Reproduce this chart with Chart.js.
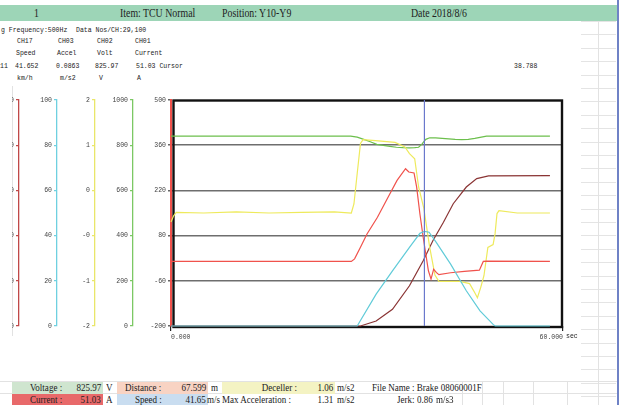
<!DOCTYPE html>
<html>
<head>
<meta charset="utf-8">
<script src="https://cdn.jsdelivr.net/npm/chart.js@4"></script>
<style>
  body { margin: 0; width: 620px; height: 405px; overflow: hidden; background: #fff; position: relative; }
  .hdr { position: absolute; left: 0; top: 5px; width: 617px; height: 16px; background: #9dd5b7; }
  .sv { position: absolute; font-family: 'Liberation Serif', serif; color: #222; white-space: pre; transform: scaleX(0.82); }
  .sv.l { transform-origin: left center; }
  .sv.r { transform-origin: right center; text-align: right; }
  .mono { position: absolute; font-family: 'Liberation Mono', monospace; font-size: 6.5px; color: #222; white-space: pre; }
  .cell { position: absolute; height: 12px; }
  .gridR { position: absolute; left: 581px; top: 21px; width: 35px; height: 384px;
    background: repeating-linear-gradient(to bottom, #e4e4e4 0, #e4e4e4 1px, transparent 1px, transparent 13.4px); }
  .vline { position: absolute; width: 1px; background: #e2e2e2; }
  #wrap { position: absolute; left: 12px; top: 90px; width: 588px; height: 265px; overflow: hidden; }
  #c { position: absolute; left: -31px; top: 0; }
</style>
</head>
<body>
<div class="gridR"></div>
<div class="vline" style="left:598px;top:21px;height:384px"></div>
<div class="vline" style="left:12px;top:86px;height:250px"></div>
<div class="vline" style="left:462px;top:381px;height:24px"></div>
<div class="vline" style="left:482px;top:381px;height:24px"></div>
<div class="vline" style="left:503px;top:381px;height:24px"></div>
<div class="vline" style="left:533px;top:381px;height:24px"></div>
<div class="vline" style="left:567px;top:381px;height:24px"></div>
<div style="position:absolute;left:0;top:381px;width:617px;height:1px;background:#e2e2e2"></div>
<div style="position:absolute;left:0;top:393px;width:617px;height:1px;background:#e2e2e2"></div>
<div style="position:absolute;left:617px;top:0;width:1.5px;height:405px;background:#6f82c6"></div>

<div class="hdr"></div>
<div class="sv l" style="left:34px;top:6px;font-size:12px">1</div>
<div class="sv l" style="left:120px;top:6px;font-size:12px">Item: TCU Normal</div>
<div class="sv l" style="left:222px;top:6px;font-size:12px">Position: Y10-Y9</div>
<div class="sv l" style="left:411px;top:6px;font-size:12px">Date 2018/8/6</div>

<div class="mono" style="left:1px;top:27px">g Frequency:500Hz</div>
<div class="mono" style="left:76px;top:27px">Data Nos/CH:29,100</div>
<div class="mono" style="left:17px;top:38px">CH17</div>
<div class="mono" style="left:58px;top:38px">CH03</div>
<div class="mono" style="left:97px;top:38px">CH02</div>
<div class="mono" style="left:135px;top:38px">CH01</div>
<div class="mono" style="left:16px;top:50px">Speed</div>
<div class="mono" style="left:57px;top:50px">Accel</div>
<div class="mono" style="left:97px;top:50px">Volt</div>
<div class="mono" style="left:135px;top:50px">Current</div>
<div class="mono" style="left:0px;top:63px">11</div>
<div class="mono" style="left:15px;top:63px">41.652</div>
<div class="mono" style="left:56px;top:63px">0.0863</div>
<div class="mono" style="left:95px;top:63px">825.97</div>
<div class="mono" style="left:136px;top:63px">51.03 Cursor</div>
<div class="mono" style="left:514px;top:63px">38.788</div>
<div class="mono" style="left:17px;top:75px">km/h</div>
<div class="mono" style="left:60px;top:75px">m/s2</div>
<div class="mono" style="left:99px;top:75px">V</div>
<div class="mono" style="left:137px;top:75px">A</div>

<div id="wrap"><canvas id="c" width="600" height="265"></canvas></div>
<div class="mono" style="left:566px;top:333px">sec</div>

<div class="cell" style="left:12px;top:382px;width:91px;background:#cfe5cf"></div>
<div class="cell" style="left:117px;top:382px;width:91px;background:#f8d3c3"></div>
<div class="cell" style="left:222px;top:382px;width:113px;background:#f4f3c3"></div>
<div class="cell" style="left:12px;top:394px;width:91px;background:#e8696a"></div>
<div class="cell" style="left:117px;top:394px;width:91px;background:#c9ddf0"></div>

<div class="sv l" style="left:30px;top:381px;font-size:11px">Voltage :</div>
<div class="sv r" style="right:519px;top:381px;font-size:11px">825.97</div>
<div class="sv l" style="left:106px;top:381px;font-size:11px">V</div>
<div class="sv l" style="left:125px;top:381px;font-size:11px">Distance :</div>
<div class="sv r" style="right:414px;top:381px;font-size:11px">67.599</div>
<div class="sv l" style="left:211px;top:381px;font-size:11px">m</div>
<div class="sv r" style="right:323px;top:381px;font-size:11px">Deceller :</div>
<div class="sv r" style="right:287px;top:381px;font-size:11px">1.06</div>
<div class="sv l" style="left:337px;top:381px;font-size:11px">m/s2</div>
<div class="sv l" style="left:372px;top:381px;font-size:11px">File Name : Brake 08060001F</div>

<div class="sv l" style="left:30px;top:393px;font-size:11px">Current :</div>
<div class="sv r" style="right:519px;top:393px;font-size:11px">51.03</div>
<div class="sv l" style="left:106px;top:393px;font-size:11px">A</div>
<div class="sv l" style="left:135px;top:393px;font-size:11px">Speed :</div>
<div class="sv r" style="right:414px;top:393px;font-size:11px">41.65</div>
<div class="sv l" style="left:207px;top:393px;font-size:11px">m/s</div>
<div class="sv l" style="left:222px;top:393px;font-size:11px">Max Acceleration :</div>
<div class="sv r" style="right:287px;top:393px;font-size:11px">1.31</div>
<div class="sv l" style="left:337px;top:393px;font-size:11px">m/s2</div>
<div class="sv l" style="left:397px;top:393px;font-size:11px">Jerk:</div>
<div class="sv l" style="left:417px;top:393px;font-size:11px">0.86</div>
<div class="sv l" style="left:436px;top:393px;font-size:11px">m/s3</div>

<script>
  // Channels (time in sec)
  const voltTime  = [0, 27.5, 28.5, 29.5, 30.5, 31.5, 32.5, 33.5, 34.5, 35.5, 36.5, 37.3, 37.9, 38.4, 39.0, 39.6, 40.5, 41.5, 42.5, 43.5, 44.5, 45.5, 46.5, 47.5, 48.3, 58];
  const voltage   = [840, 840, 836, 826, 815, 804, 799, 795, 791, 789, 788, 789, 791, 805, 826, 833, 832, 830, 828, 826, 825, 826, 830, 836, 840, 840];

  const accelTime = [0, 0.4, 0.8, 5, 10, 15, 20, 25, 27.6, 28.0, 28.5, 29.0, 29.4, 31.3, 34.3, 35.8, 36.5, 37.3, 37.9, 38.7, 39.6, 40.4, 41.0, 44.2, 45.7, 46.5, 46.9, 47.4, 47.9, 48.5, 49.3, 49.6, 49.9, 50.2, 53, 58];
  const accel     = [-0.16, -0.05, 0.01, 0.0, 0.02, 0.0, 0.01, 0.02, 0.0, 0.16, 0.70, 1.23, 1.30, 1.28, 1.25, 1.17, 1.05, 0.96, 0.46, 0.08, -0.61, -1.10, -1.21, -1.21, -1.25, -1.41, -1.50, -1.32, -1.11, -0.61, -0.56, -0.37, -0.01, 0.04, 0.0, 0.0];

  const currTime  = [0, 27.6, 28.1, 29.0, 30.0, 31.6, 33.1, 34.6, 35.9, 36.4, 37.2, 37.6, 38.1, 38.6, 39.0, 39.4, 39.8, 40.2, 40.6, 41.0, 42.8, 44.9, 47.2, 47.8, 48.3, 58];
  const current   = [0, 0, 8, 44, 85, 137, 194, 251, 287, 277, 274, 230, 147, 75, 23, -29, -55, -24, -34, -41, -35, -31, -27, 0, 1, 0];

  const speedTime = [0, 28.5, 31.4, 33.9, 36.5, 38.1, 38.8, 39.5, 40.6, 42.8, 45.2, 47.3, 49.3, 49.6, 58];
  const speed     = [0, 0, 14.1, 24.4, 34.8, 41.0, 41.9, 41.5, 37.0, 27.4, 15.6, 6.7, 0.7, 0, 0];

  const distTime  = [0, 29.0, 31.4, 33.9, 36.5, 38.6, 40.1, 41.7, 43.2, 45.2, 46.8, 48.6, 58];
  const distance  = [0, 0, 2.2, 7.4, 17.8, 28.9, 37.8, 45.9, 54.1, 61.5, 65.2, 66.4, 66.5];

  const cursorTime = 38.788;

  // Tick labels
  const mainTicks  = [-200, -60, 80, 220, 360, 500];
  const distTicks  = [0, 20, 40, 60, 80, 100];
  const speedTicks = [0, 20, 40, 60, 80, 100];
  const accelTicks = [-2, -1.2, -0.4, 0.4, 1.2, 2];
  const voltTicks  = [0, 200, 400, 600, 800, 1000];
  const timeTicks  = [0, 60];

  // Colors
  const c_volt   = '#6cbf4c';
  const c_accel  = '#eeea5c';
  const c_curr   = '#f0524c';
  const c_speed  = '#60cbd8';
  const c_dist   = '#8a3434';
  const c_cursor = '#6a78cc';

  function pts(ts, vs) {
    return ts.map((t, i) => ({ x: t, y: vs[i] }));
  }

  const tickFont = { family: 'Liberation Mono', size: 6.5 };

  function sideAxis(min, max, ticks, color, weight, fmt) {
    return {
      position: 'left', min: min, max: max, weight: weight,
      afterFit: s => { s.width = 38; },
      afterBuildTicks: s => { s.ticks = ticks.map(v => ({ value: v })); },
      border: { color: color, width: 1.3 },
      grid: { drawOnChartArea: false, color: color, tickLength: 3, lineWidth: 1.3 },
      ticks: { color: '#444', font: tickFont, padding: 2, callback: fmt }
    };
  }

  const line = (label, data, color, axis) => ({
    label: label, data: data, yAxisID: axis,
    borderColor: color, borderWidth: 1.2,
    pointRadius: 0, tension: 0, fill: false, clip: 3
  });

  // chart frame
  const framePlugin = {
    id: 'frame',
    beforeDatasetsDraw(chart) {
      const { ctx, chartArea: a } = chart;
      ctx.save();
      ctx.strokeStyle = '#111';
      ctx.lineWidth = 2.4;
      ctx.strokeRect(a.left + 2.5, a.top + 0.5, a.right - a.left - 3.5, a.bottom - a.top + 0.5);
      ctx.restore();
    }
  };

  new Chart(document.getElementById('c').getContext('2d'), {
    type: 'line',
    data: {
      datasets: [
        line('Cursor', [{ x: cursorTime, y: -200 }, { x: cursorTime, y: 500 }], c_cursor, 'y'),
        line('Speed', pts(speedTime, speed), c_speed, 'ySpeed'),
        line('Current', pts(currTime, current), c_curr, 'y'),
        line('Accel', pts(accelTime, accel), c_accel, 'yAccel'),
        line('Volt', pts(voltTime, voltage), c_volt, 'yVolt'),
        line('Distance', pts(distTime, distance), c_dist, 'yDist')
      ]
    },
    options: {
      responsive: false,
      devicePixelRatio: 1,
      animation: false,
      layout: { padding: { top: 10, right: 18, bottom: 9, left: 0 } },
      scales: {
        x: {
          type: 'linear', min: 0, max: 60,
          afterFit: s => { s.height = 20; },
          afterBuildTicks: s => { s.ticks = timeTicks.map(v => ({ value: v })); },
          border: { display: false },
          grid: { drawOnChartArea: false, color: '#222', tickLength: 5, lineWidth: 1.2 },
          ticks: { color: '#444', font: tickFont, align: 'inner', maxRotation: 0, padding: 2,
            callback: v => v.toFixed(3) }
        },
        yDist: sideAxis(0, 100, distTicks, '#c04848', 4, v => v),
        ySpeed: sideAxis(0, 100, speedTicks, '#6fd0e0', 3, v => v),
        yAccel: sideAxis(-2, 2, accelTicks, '#e9e66a', 2, v => v.toFixed(0)),
        yVolt: sideAxis(0, 1000, voltTicks, '#7cc864', 1, v => v),
        y: {
          position: 'left', min: -200, max: 500, weight: 0,
          afterFit: s => { s.width = 38; },
          afterBuildTicks: s => { s.ticks = mainTicks.map(v => ({ value: v })); },
          border: { color: '#f0524c', width: 2 },
          grid: {
            color: ctx => (ctx.tick && (ctx.tick.value === 500 || ctx.tick.value === -200)) ? 'rgba(0,0,0,0)' : '#6e6e6e',
            tickColor: '#666', tickLength: 3, lineWidth: 1.4
          },
          ticks: { color: '#444', font: tickFont, padding: 2 }
        }
      },
      plugins: {
        legend: { display: false },
        tooltip: { enabled: false }
      }
    },
    plugins: [framePlugin]
  });
</script>
</body>
</html>
